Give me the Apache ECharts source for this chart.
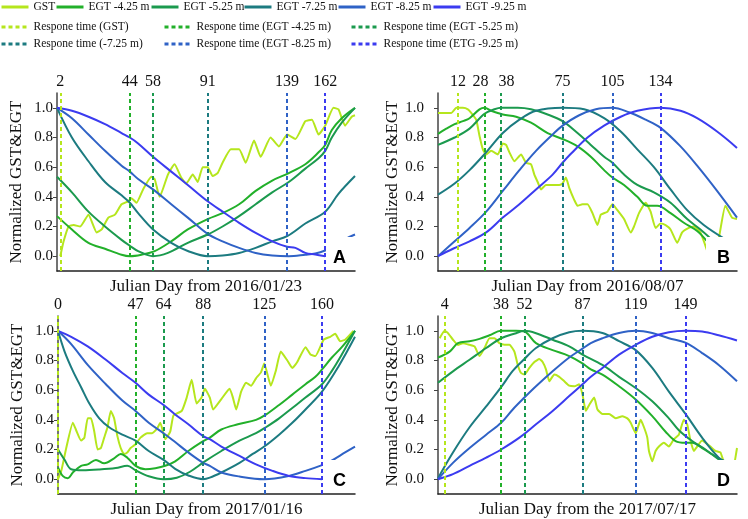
<!DOCTYPE html>
<html>
<head>
<meta charset="utf-8">
<title>GST & EGT response</title>
<script src="https://cdn.jsdelivr.net/npm/echarts@6/dist/echarts.min.js"></script>
<style>
  html, body { margin: 0; padding: 0; background: #fff; }
  #main { width: 748px; height: 519px; }
</style>
</head>
<body>
<div id="main"></div>
<script>
// series names (legend)
const lineNames = ['GST', 'EGT -4.25 m', 'EGT -5.25 m', 'EGT -7.25 m', 'EGT -8.25 m', 'EGT -9.25 m']
const respNames = ['Respone time (GST)', 'Respone time (EGT -4.25 m)', 'Respone time (EGT -5.25 m)',
  'Respone time (-7.25 m)', 'Respone time (EGT -8.25 m)', 'Respone time (ETG -9.25 m)']
const yTicks = [0, 0.2, 0.4, 0.6, 0.8, 1.0]

// ---- panel A : from 2016/01/23 ----
const respA = [2, 44, 58, 91, 139, 162]
const gstA = [[2, 0.0], [4, 0.1], [7, 0.2], [10, 0.21], [14, 0.2], [19, 0.28], [24, 0.16], [27, 0.18], [31, 0.26], [35, 0.28],
  [39, 0.35], [43, 0.37], [45, 0.39], [48, 0.36], [52, 0.45], [57, 0.535], [59, 0.52], [62, 0.4], [67, 0.55], [71, 0.62],
  [75, 0.53], [78, 0.49], [82, 0.55], [85, 0.5], [88, 0.6], [91, 0.6], [94, 0.54], [97, 0.56], [100, 0.63], [105, 0.72],
  [110, 0.72], [114, 0.63], [119, 0.78], [123, 0.67], [129, 0.8], [134, 0.74], [139, 0.82], [144, 0.79], [150, 0.91],
  [154, 0.92], [158, 0.82], [162, 0.88], [167, 1.0], [170, 0.99], [174, 0.88], [178, 0.94], [180, 0.95]]
const egt425A = [[0, 0.27], [9, 0.18], [19, 0.09], [29, 0.05], [39, 0.01], [44, 0.0], [51, 0.01], [59, 0.034], [69, 0.1],
  [79, 0.18], [91, 0.25], [100, 0.29], [110, 0.35], [120, 0.44], [130, 0.51], [140, 0.56], [150, 0.62], [158, 0.7],
  [162, 0.75], [166, 0.85], [172, 0.93], [180, 1.0]]
const egt525A = [[0, 0.535], [9, 0.43], [19, 0.3], [29, 0.2], [39, 0.11], [44, 0.07], [49, 0.034], [58, 0.0], [67, 0.022],
  [79, 0.09], [91, 0.146], [100, 0.2], [110, 0.27], [120, 0.35], [130, 0.43], [140, 0.5], [150, 0.59], [158, 0.66],
  [162, 0.71], [166, 0.8], [172, 0.9], [180, 1.0]]
const egt725A = [[0, 1.0], [9, 0.8], [19, 0.64], [29, 0.5], [39, 0.41], [44, 0.36], [49, 0.29], [58, 0.18], [69, 0.09],
  [79, 0.035], [91, 0.0], [100, 0.005], [110, 0.022], [120, 0.056], [130, 0.1], [139, 0.135], [150, 0.22], [162, 0.3],
  [170, 0.42], [180, 0.54]]
const egt825A = [[0, 1.0], [9, 0.93], [19, 0.82], [29, 0.71], [39, 0.61], [44, 0.57], [49, 0.52], [58, 0.45], [69, 0.35],
  [79, 0.26], [91, 0.15], [100, 0.1], [110, 0.056], [120, 0.022], [130, 0.005], [140, 0.0], [150, 0.01], [156, 0.018],
  [162, 0.038], [168, 0.07], [175, 0.12], [180, 0.146]]
const egt925A = [[0, 1.0], [9, 0.98], [19, 0.94], [29, 0.89], [39, 0.83], [44, 0.8], [49, 0.76], [58, 0.67], [69, 0.57],
  [79, 0.48], [91, 0.37], [100, 0.3], [110, 0.225], [120, 0.157], [130, 0.1], [139, 0.063], [144, 0.056], [150, 0.022],
  [156, 0.011], [162, 0.0]]

// ---- panel B : from 2016/08/07 ----
const respB = [12, 28, 38, 75, 105, 134]
const gstB = [[0, 0.966], [8, 0.966], [11, 1.0], [15, 1.0], [18, 0.99], [20, 0.966], [23, 0.92], [25, 0.81], [27, 0.72],
  [29, 0.685], [32, 0.71], [36, 0.685], [39, 0.76], [41, 0.75], [43, 0.7], [46, 0.64], [50, 0.685], [53, 0.63], [56, 0.62],
  [58, 0.55], [60, 0.5], [62, 0.45], [65, 0.48], [69, 0.48], [73, 0.48], [75, 0.49], [77, 0.53], [79, 0.46], [82, 0.38],
  [84, 0.34], [87, 0.35], [90, 0.35], [93, 0.29], [96, 0.21], [98, 0.28], [102, 0.3], [105, 0.35], [108, 0.31], [112, 0.25],
  [116, 0.16], [118, 0.2], [121, 0.29], [125, 0.36], [128, 0.3], [131, 0.19], [134, 0.22], [137, 0.21], [140, 0.18],
  [144, 0.09], [147, 0.16], [151, 0.19], [154, 0.2], [158, 0.16], [161, 0.07], [163, 0.01], [165, 0.0], [169, 0.12],
  [173, 0.34], [177, 0.26], [180, 0.25]]
const egt425B = [[0, 0.825], [5, 0.86], [10, 0.89], [15, 0.91], [19, 0.93], [25, 0.99], [28, 1.0], [32, 0.98], [39, 0.955],
  [47, 0.94], [56, 0.9], [66, 0.83], [75, 0.79], [84, 0.74], [92, 0.67], [100, 0.58], [105, 0.53], [112, 0.48], [120, 0.4],
  [126, 0.34], [132, 0.34], [140, 0.29], [148, 0.225], [156, 0.17], [162, 0.1]]
const egt525B = [[0, 0.75], [10, 0.8], [19, 0.86], [28, 0.96], [34, 0.99], [38, 1.0], [48, 1.0], [56, 0.99], [66, 0.955],
  [75, 0.91], [84, 0.83], [92, 0.75], [100, 0.67], [105, 0.63], [112, 0.55], [120, 0.48], [130, 0.43], [140, 0.36],
  [150, 0.25], [158, 0.18], [164, 0.12]]
const egt725B = [[0, 0.415], [10, 0.49], [19, 0.58], [29, 0.7], [39, 0.83], [49, 0.92], [59, 0.98], [75, 1.0], [88, 0.99],
  [100, 0.93], [110, 0.84], [120, 0.72], [130, 0.6], [140, 0.45], [150, 0.31], [160, 0.21], [172, 0.12]]
const egt825B = [[0, 0.0], [9, 0.09], [19, 0.19], [29, 0.3], [39, 0.44], [49, 0.58], [59, 0.71], [69, 0.82], [75, 0.88],
  [85, 0.95], [95, 0.99], [105, 1.0], [115, 0.97], [125, 0.92], [134, 0.865], [146, 0.74], [156, 0.61], [168, 0.44],
  [180, 0.26]]
const egt925B = [[0, 0.0], [9, 0.05], [19, 0.1], [29, 0.16], [39, 0.26], [49, 0.35], [59, 0.45], [69, 0.55], [75, 0.63],
  [80, 0.69], [90, 0.8], [100, 0.88], [110, 0.94], [120, 0.98], [134, 1.0], [146, 0.98], [156, 0.93], [168, 0.84],
  [180, 0.73]]

// ---- panel C : from 2017/01/16 ----
const respC = [0, 47, 64, 88, 125, 160]
const gstC = [[0, 0.0], [2, 0.056], [5, 0.21], [9, 0.38], [11, 0.33], [14, 0.26], [16, 0.28], [18, 0.41], [20, 0.41],
  [22, 0.32], [24, 0.2], [26, 0.21], [28, 0.28], [30, 0.35], [32, 0.46], [34, 0.41], [36, 0.29], [38, 0.21], [40, 0.17],
  [42, 0.18], [44, 0.21], [47, 0.235], [50, 0.28], [54, 0.31], [57, 0.31], [60, 0.34], [62, 0.38], [65, 0.27], [68, 0.32],
  [70, 0.43], [75, 0.46], [78, 0.55], [81, 0.67], [84, 0.51], [87, 0.55], [89, 0.61], [92, 0.55], [94, 0.47], [99, 0.54],
  [104, 0.61], [106, 0.55], [108, 0.47], [111, 0.59], [114, 0.65], [117, 0.63], [120, 0.68], [123, 0.72], [125, 0.78],
  [129, 0.63], [132, 0.73], [135, 0.86], [139, 0.8], [142, 0.75], [145, 0.79], [150, 0.89], [153, 0.84], [156, 0.83],
  [161, 0.94], [165, 0.96], [168, 0.98], [171, 0.93], [174, 0.94], [179, 1.0]]
const egt425C = [[0, 0.08], [3, 0.02], [6, 0.007], [9, 0.045], [14, 0.09], [18, 0.1], [23, 0.13], [28, 0.107], [34, 0.14],
  [38, 0.17], [42, 0.145], [47, 0.09], [53, 0.067], [59, 0.074], [65, 0.09], [71, 0.12], [79, 0.19], [87, 0.25], [92, 0.28],
  [99, 0.335], [109, 0.37], [120, 0.4], [126, 0.435], [134, 0.5], [142, 0.57], [150, 0.64], [156, 0.69], [160, 0.74],
  [166, 0.82], [172, 0.89], [180, 1.0]]
const egt525C = [[0, 0.2], [4, 0.13], [8, 0.067], [15, 0.06], [25, 0.065], [35, 0.075], [42, 0.09], [47, 0.06], [55, 0.02],
  [64, 0.0], [72, 0.01], [80, 0.05], [89, 0.12], [99, 0.19], [110, 0.26], [120, 0.31], [126, 0.35], [134, 0.41],
  [142, 0.48], [150, 0.55], [160, 0.64], [166, 0.73], [172, 0.84], [180, 1.0]]
const egt725C = [[0, 1.0], [4, 0.86], [9, 0.73], [14, 0.62], [19, 0.51], [25, 0.41], [31, 0.35], [39, 0.3], [47, 0.26],
  [55, 0.19], [64, 0.13], [71, 0.07], [79, 0.025], [88, 0.0], [92, 0.01], [99, 0.045], [110, 0.11], [118, 0.17],
  [125, 0.22], [134, 0.3], [142, 0.38], [150, 0.47], [160, 0.59], [170, 0.76], [180, 0.96]]
const egt825C = [[0, 1.0], [8, 0.91], [18, 0.77], [29, 0.64], [39, 0.53], [47, 0.46], [55, 0.38], [64, 0.31], [71, 0.25],
  [79, 0.18], [88, 0.11], [92, 0.09], [99, 0.045], [110, 0.018], [125, 0.0], [140, 0.022], [150, 0.056], [160, 0.095],
  [165, 0.12], [174, 0.18], [180, 0.22]]
const egt925C = [[0, 1.0], [8, 0.96], [18, 0.895], [29, 0.805], [39, 0.716], [47, 0.65], [55, 0.57], [64, 0.5], [71, 0.436],
  [79, 0.37], [88, 0.29], [92, 0.27], [99, 0.22], [110, 0.157], [120, 0.1], [130, 0.056], [140, 0.022], [150, 0.007],
  [160, 0.0]]

// ---- panel D : from 2017/07/17 ----
const respD = [4, 38, 52, 87, 119, 149]
const gstD = [[1, 0.95], [4, 1.0], [6, 0.985], [9, 0.94], [12, 0.905], [15, 0.917], [19, 0.906], [22, 0.895], [25, 0.83],
  [28, 0.884], [31, 0.95], [34, 0.95], [37, 0.917], [40, 0.906], [43, 0.906], [46, 0.86], [48, 0.77], [50, 0.716],
  [52, 0.705], [55, 0.75], [58, 0.79], [61, 0.81], [63, 0.79], [65, 0.74], [67, 0.66], [70, 0.705], [73, 0.69], [76, 0.66],
  [79, 0.63], [82, 0.626], [85, 0.64], [87, 0.57], [89, 0.46], [91, 0.5], [94, 0.55], [96, 0.47], [99, 0.44], [103, 0.44],
  [107, 0.41], [111, 0.425], [114, 0.41], [116, 0.38], [119, 0.31], [122, 0.4], [124, 0.35], [126, 0.28], [127, 0.19],
  [129, 0.12], [131, 0.19], [133, 0.22], [136, 0.246], [139, 0.22], [142, 0.27], [145, 0.3], [148, 0.4], [150, 0.37],
  [152, 0.26], [154, 0.19], [156, 0.22], [159, 0.26], [161, 0.246], [164, 0.22], [167, 0.19], [170, 0.18], [172, 0.12],
  [174, 0.11], [177, 0.04], [180, 0.21]]
const egt425D = [[0, 0.82], [7, 0.86], [12, 0.917], [19, 0.93], [25, 0.946], [31, 0.97], [38, 1.0], [47, 1.0], [52, 0.995],
  [59, 0.917], [69, 0.87], [79, 0.83], [87, 0.78], [92, 0.74], [99, 0.705], [109, 0.626], [119, 0.537], [129, 0.425],
  [137, 0.32], [143, 0.257], [149, 0.246], [153, 0.246], [159, 0.21], [165, 0.168], [172, 0.12]]
const egt525D = [[0, 0.65], [9, 0.727], [19, 0.805], [29, 0.884], [38, 0.95], [47, 0.984], [52, 1.0], [59, 0.984],
  [69, 0.94], [79, 0.895], [87, 0.84], [99, 0.77], [109, 0.69], [119, 0.615], [129, 0.525], [139, 0.41], [145, 0.33],
  [153, 0.257], [161, 0.2], [169, 0.134], [172, 0.12]]
const egt725D = [[0, 0.007], [9, 0.18], [19, 0.35], [29, 0.49], [38, 0.62], [45, 0.73], [52, 0.81], [59, 0.884], [69, 0.95],
  [79, 0.99], [87, 1.0], [99, 0.985], [109, 0.93], [119, 0.87], [129, 0.75], [139, 0.59], [149, 0.44], [159, 0.28],
  [169, 0.145], [173, 0.12]]
const egt825D = [[0, 0.0], [9, 0.11], [19, 0.21], [29, 0.3], [38, 0.38], [45, 0.47], [52, 0.55], [59, 0.626], [69, 0.727],
  [79, 0.82], [87, 0.88], [92, 0.917], [99, 0.95], [109, 0.985], [119, 1.0], [129, 0.985], [139, 0.95], [149, 0.92],
  [159, 0.85], [169, 0.77], [180, 0.66]]
const egt925D = [[0, 0.0], [9, 0.034], [19, 0.09], [29, 0.145], [38, 0.2], [49, 0.28], [59, 0.37], [69, 0.46], [79, 0.56],
  [87, 0.64], [92, 0.69], [99, 0.75], [109, 0.84], [119, 0.906], [129, 0.96], [139, 0.99], [149, 1.0], [159, 0.995],
  [169, 0.97], [180, 0.935]]

const panels = [
  { tag: 'A', xName: 'Julian Day from 2016/01/23', resp: respA, curves: [gstA, egt425A, egt525A, egt725A, egt825A, egt925A] },
  { tag: 'B', xName: 'Julian Day from 2016/08/07', resp: respB, curves: [gstB, egt425B, egt525B, egt725B, egt825B, egt925B] },
  { tag: 'C', xName: 'Julian Day from 2017/01/16', resp: respC, curves: [gstC, egt425C, egt525C, egt725C, egt825C, egt925C] },
  { tag: 'D', xName: 'Julian Day from the 2017/07/17', resp: respD, curves: [gstD, egt425D, egt525D, egt725D, egt825D, egt925D] }
]

const colors = ['#b5e61d', '#22b02a', '#1b9a4e', '#1c7b80', '#2f62c6', '#3b3bf0']
const serif = 'Liberation Serif'
const ink = '#111'

// plot areas
const grids = [
  { left: 57, top: 93, width: 298, height: 178 },
  { left: 438, top: 93, width: 299, height: 178 },
  { left: 58, top: 316, width: 297, height: 178 },
  { left: 438, top: 316, width: 299, height: 178 }
]
// letter boxes (white backing like the original)
const tagBoxes = [
  { left: 326, top: 238, pad: [12, 8, 2, 7] },
  { left: 706, top: 238, pad: [12, 8, 2, 11] },
  { left: 323, top: 461, pad: [12, 8, 2, 10] },
  { left: 707, top: 461, pad: [12, 8, 2, 10] }
]
// the two crowded top labels of panel B are pushed apart (padding shifts the centred text)
function topLabelPadding (panel, k) {
  if (panel === 1 && k === 1) return [0, 8, 0, 0]
  if (panel === 1 && k === 2) return [0, 0, 0, 11]
  return 0
}

const xAxes = panels.map((p, i) => ({
  gridIndex: i,
  type: 'value',
  min: 0,
  max: 180,
  name: p.xName,
  nameLocation: 'middle',
  nameGap: 7,
  nameTextStyle: { fontFamily: serif, fontSize: 17, color: ink },
  axisLine: { show: true, onZero: false, lineStyle: { color: '#222', width: 1.5 } },
  axisTick: { show: false },
  axisLabel: { show: false },
  splitLine: { show: false }
}))

const yAxes = panels.map((p, i) => ({
  gridIndex: i,
  type: 'value',
  min: -0.1,
  max: 1.1,
  name: 'Normalized GST&EGT',
  nameLocation: 'middle',
  nameGap: i % 2 ? 34 : 32,
  nameTextStyle: { fontFamily: serif, fontSize: 17, color: ink },
  axisLine: { show: true, onZero: false, lineStyle: { color: '#444', width: 1.5 } },
  axisTick: { show: true, customValues: yTicks, length: 4, lineStyle: { color: '#444' } },
  axisLabel: {
    customValues: yTicks,
    formatter: v => v.toFixed(1),
    margin: i % 2 ? 14 : 4,
    fontFamily: serif,
    fontSize: 15,
    color: ink
  },
  splitLine: { show: false }
}))

const series = []
panels.forEach((p, i) => {
  p.curves.forEach((d, k) => {
    series.push({
      type: 'line',
      name: lineNames[k],
      xAxisIndex: i,
      yAxisIndex: i,
      data: d,
      symbol: 'none',
      smooth: k === 0 ? 0.15 : 0.35,
      lineStyle: { width: 2, color: colors[k] },
      itemStyle: { color: colors[k] }
    })
  })
  // response time dashed lines, labelled on top
  p.resp.forEach((day, k) => {
    series.push({
      type: 'line',
      name: respNames[k],
      xAxisIndex: i,
      yAxisIndex: i,
      data: [],
      symbol: 'none',
      lineStyle: { width: 2, type: [4, 3], color: colors[k] },
      itemStyle: { color: colors[k] },
      markLine: {
        silent: true,
        symbol: ['none', 'none'],
        lineStyle: { color: colors[k], width: 2, type: [4, 3] },
        label: {
          show: true,
          position: 'end',
          distance: 3,
          padding: topLabelPadding(i, k),
          formatter: prm => prm.value,
          fontFamily: serif,
          fontSize: 16,
          color: ink
        },
        data: [{ xAxis: day }]
      }
    })
  })
})

// legends: first row solid lines, then two rows in three columns
const legendBase = {
  padding: 0,
  itemWidth: 27,
  itemHeight: 14,
  itemGap: 5,
  lineStyle: { width: 3 },
  itemStyle: { opacity: 0 },
  textStyle: { fontFamily: serif, fontSize: 11.5, color: ink }
}
const row1Left = [0, 55, 150, 243, 337, 432]
const colLeft = [0, 163, 350]
const legends = []
lineNames.forEach((n, k) => {
  legends.push(Object.assign({}, legendBase, { left: row1Left[k], top: 1, data: [n] }))
})
colLeft.forEach((x, c) => {
  legends.push(Object.assign({}, legendBase, {
    left: x, top: 21, orient: 'vertical', data: [respNames[c], respNames[c + 3]]
  }))
})

const titles = panels.map((p, i) => ({
  text: p.tag,
  left: tagBoxes[i].left,
  top: tagBoxes[i].top,
  padding: tagBoxes[i].pad,
  backgroundColor: '#fff',
  textStyle: { fontFamily: 'Liberation Sans', fontWeight: 'bold', fontSize: 18, lineHeight: 16, color: '#000' }
}))

const chart = echarts.init(document.getElementById('main'))
chart.setOption({
  animation: false,
  backgroundColor: '#fff',
  title: titles,
  legend: legends,
  grid: grids,
  xAxis: xAxes,
  yAxis: yAxes,
  series: series
})
</script>
</body>
</html>
